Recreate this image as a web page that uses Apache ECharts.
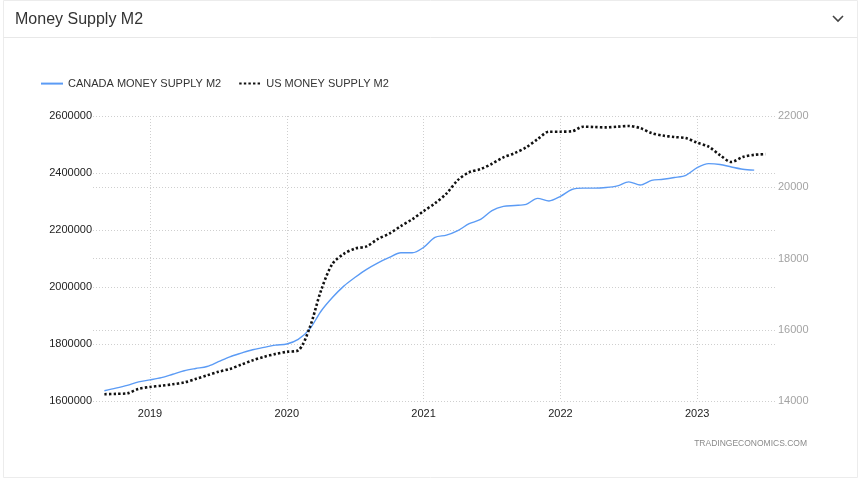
<!DOCTYPE html>
<html>
<head>
<meta charset="utf-8">
<script src="https://cdn.jsdelivr.net/npm/echarts@6/dist/echarts.min.js"></script>
<style>
html,body{margin:0;padding:0;background:#fff;}
#chart{width:859px;height:479px;}
</style>
</head>
<body>
<div id="chart"></div>
<script>
const months = [
 '2018-08','2018-09','2018-10','2018-11','2018-12',
 '2019-01','2019-02','2019-03','2019-04','2019-05','2019-06','2019-07','2019-08','2019-09','2019-10','2019-11','2019-12',
 '2020-01','2020-02','2020-03','2020-04','2020-05','2020-06','2020-07','2020-08','2020-09','2020-10','2020-11','2020-12',
 '2021-01','2021-02','2021-03','2021-04','2021-05','2021-06','2021-07','2021-08','2021-09','2021-10','2021-11','2021-12',
 '2022-01','2022-02','2022-03','2022-04','2022-05','2022-06','2022-07','2022-08','2022-09','2022-10','2022-11','2022-12',
 '2023-01','2023-02','2023-03','2023-04','2023-05','2023-06','2023-07','2023-08'
];
const canadaM2 = [
 null, 1636000, 1645000, 1655000, 1667000,
 1674000, 1682000, 1694000, 1706000, 1714000, 1721000, 1738000, 1755000, 1768000, 1780000, 1788000, 1796000,
 1800000, 1816000, 1852000, 1915000, 1963000, 2003000, 2034000, 2062000, 2085000, 2104000, 2120000, 2120000,
 2139000, 2174000, 2182000, 2198000, 2222000, 2237000, 2268000, 2283000, 2286000, 2290000, 2311000, 2302000,
 2318000, 2342000, 2347000, 2347000, 2349000, 2355000, 2369000, 2358000, 2374000, 2378000, 2384000, 2392000,
 2419000, 2433000, 2430000, 2421000, 2413000, 2410000, null, null
];
const usM2 = [
 null, 14190, 14200, 14215, 14340,
 14395, 14430, 14470, 14520, 14620, 14720, 14820, 14900, 15020, 15140, 15240, 15320,
 15380, 15420, 16050, 17100, 17850, 18130, 18280, 18340, 18550, 18700, 18910, 19100,
 19330, 19550, 19820, 20200, 20420, 20510, 20660, 20840, 20960, 21120, 21350, 21560,
 21560, 21570, 21700, 21690, 21680, 21700, 21720, 21660, 21520, 21450, 21410, 21380,
 21250, 21140, 20900, 20710, 20850, 20910, 20930, null
];
const seriesNames = ['CANADA MONEY SUPPLY M2', 'US MONEY SUPPLY M2'];
const leftTicks = {min: 1600000, max: 2600000, interval: 200000};
const rightTicks = {min: 14000, max: 22000, interval: 2000};

const FONT = 'Liberation Sans, Arial, sans-serif';
const isJan = (i, v) => typeof v === 'string' ? v.endsWith('-01') : months[i].endsWith('-01');
const gridLine = {show: true, lineStyle: {color: '#cfcfcf', type: [1, 2], width: 1}};

const chart = echarts.init(document.getElementById('chart'), null, {renderer: 'canvas'});
chart.setOption({
  animation: false,
  backgroundColor: '#fff',
  title: {
    text: 'Money Supply M2', left: 10, top: 7,
    textStyle: {fontFamily: FONT, fontSize: 16, fontWeight: 'normal', color: '#333'}
  },
  graphic: [
    {type: 'rect', shape: {x: 3.5, y: 0.5, width: 854, height: 477}, style: {fill: 'none', stroke: '#ececec', lineWidth: 1}, silent: true, z: -1},
    {type: 'line', shape: {x1: 3.5, y1: 37.5, x2: 857.5, y2: 37.5}, style: {stroke: '#e8e8e8', lineWidth: 1}, silent: true},
    {type: 'polyline', shape: {points: [[833, 16], [838, 21], [843, 16]]}, style: {stroke: '#444', lineWidth: 1.6, fill: 'none'}, silent: true},
    {type: 'text', right: 52, top: 439, style: {text: 'TRADINGECONOMICS.COM', fill: '#8a8a8a', font: '8.5px ' + FONT}, silent: true}
  ],
  legend: {
    left: 35, top: 73, itemWidth: 22, itemHeight: 14, itemGap: 17,
    itemStyle: {opacity: 0},
    textStyle: {fontFamily: FONT, fontSize: 11, color: '#333'},
    data: seriesNames
  },
  grid: {left: 93, right: 82, top: 116, bottom: 78, containLabel: false},
  xAxis: {
    type: 'category', data: months, boundaryGap: false,
    axisLine: {show: false}, axisTick: {show: false},
    axisLabel: {interval: isJan, formatter: v => v.slice(0, 4), fontFamily: FONT, fontSize: 11, color: '#222', margin: 7},
    splitLine: {show: true, interval: isJan, lineStyle: {color: '#cfcfcf', type: [1, 2], width: 1}}
  },
  yAxis: [
    {
      type: 'value', position: 'left', min: leftTicks.min, max: leftTicks.max, interval: leftTicks.interval,
      axisLine: {show: false}, axisTick: {show: false},
      axisLabel: {formatter: v => String(v), fontFamily: FONT, fontSize: 11, color: '#222', margin: 1},
      splitLine: gridLine
    },
    {
      type: 'value', position: 'right', min: rightTicks.min, max: rightTicks.max, interval: rightTicks.interval,
      axisLine: {show: false}, axisTick: {show: false},
      axisLabel: {formatter: v => String(v), fontFamily: FONT, fontSize: 11, color: '#a3a3a3', margin: 1},
      splitLine: gridLine
    }
  ],
  series: [
    {
      name: seriesNames[0], type: 'line', yAxisIndex: 0, data: canadaM2,
      symbol: 'none', smooth: 0.3, connectNulls: false,
      lineStyle: {color: '#5b9bf5', width: 1.4},
      itemStyle: {color: '#5b9bf5'}
    },
    {
      name: seriesNames[1], type: 'line', yAxisIndex: 1, data: usM2,
      symbol: 'none', smooth: 0.3, connectNulls: false,
      lineStyle: {color: '#111', width: 2.6, type: [2.4, 2.2]},
      itemStyle: {color: '#111'}, z: 3
    }
  ]
});
</script>
</body>
</html>
